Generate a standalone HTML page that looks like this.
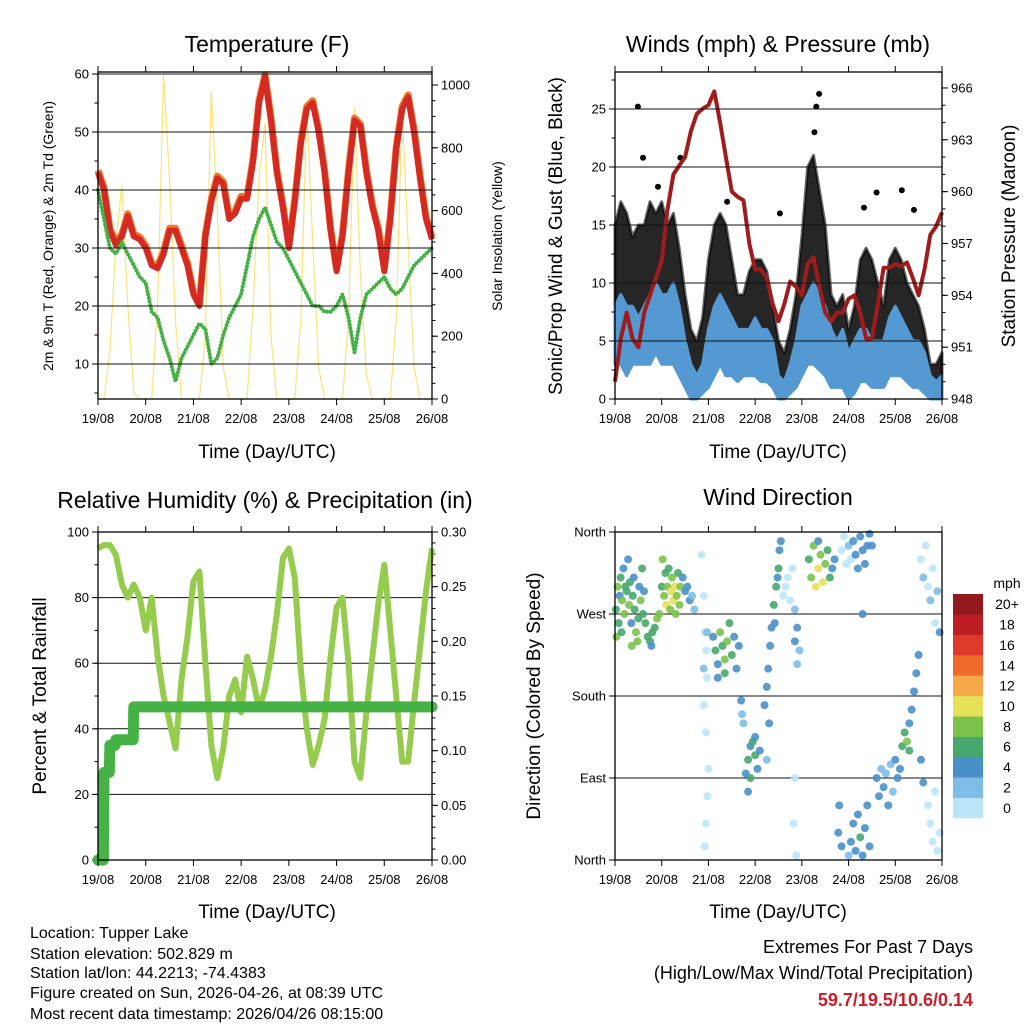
<!DOCTYPE html>
<html><head><meta charset="utf-8">
<style>
html,body{margin:0;padding:0;background:#fff;}
svg{display:block;font-family:"Liberation Sans",Arial,sans-serif;}
</style></head>
<body>
<svg id="chart" width="1024" height="1024" viewBox="0 0 1024 1024" xmlns="http://www.w3.org/2000/svg">
<rect width="1024" height="1024" fill="#fff"/>
<g id="layer"></g>
<text x="267" y="52" font-size="23" text-anchor="middle">Temperature (F)</text>
<text x="778" y="52" font-size="23" text-anchor="middle">Winds (mph) &amp; Pressure (mb)</text>
<text x="265" y="508" font-size="23" text-anchor="middle">Relative Humidity (%) &amp; Precipitation (in)</text>
<text x="778" y="505" font-size="23" text-anchor="middle">Wind Direction</text>
<text x="267" y="458" font-size="19" text-anchor="middle">Time (Day/UTC)</text>
<text x="778" y="458" font-size="19" text-anchor="middle">Time (Day/UTC)</text>
<text x="267" y="918" font-size="19" text-anchor="middle">Time (Day/UTC)</text>
<text x="778" y="918" font-size="19" text-anchor="middle">Time (Day/UTC)</text>
<text transform="translate(53,236) rotate(-90)" font-size="14" text-anchor="middle">2m &amp; 9m T (Red, Orange) &amp; 2m Td (Green)</text>
<text transform="translate(502,236) rotate(-90)" font-size="14" text-anchor="middle">Solar Insolation (Yellow)</text>
<text transform="translate(562,236) rotate(-90)" font-size="19" text-anchor="middle">Sonic/Prop Wind &amp; Gust (Blue, Black)</text>
<text transform="translate(1015,236) rotate(-90)" font-size="19" text-anchor="middle">Station Pressure (Maroon)</text>
<text transform="translate(46,696) rotate(-90)" font-size="19" text-anchor="middle">Percent &amp; Total Rainfall</text>
<text transform="translate(540,696) rotate(-90)" font-size="19" text-anchor="middle">Direction (Colored By Speed)</text>
<g font-size="16">
<text x="30" y="938">Location: Tupper Lake</text>
<text x="30" y="959">Station elevation: 502.829 m</text>
<text x="30" y="978">Station lat/lon: 44.2213; -74.4383</text>
<text x="30" y="998">Figure created on Sun, 2026-04-26, at 08:39 UTC</text>
<text x="30" y="1019">Most recent data timestamp: 2026/04/26 08:15:00</text>
</g>
<text x="973" y="953" font-size="18" text-anchor="end">Extremes For Past 7 Days</text>
<text x="973" y="979" font-size="18" text-anchor="end">(High/Low/Max Wind/Total Precipitation)</text>
<text x="973" y="1006" font-size="18" font-weight="bold" fill="#c8202a" text-anchor="end">59.7/19.5/10.6/0.14</text>
</svg>
<script>
// ---- data (3-hourly from 19/08 00 UTC) ----
const dayLabels = ["19/08","20/08","21/08","22/08","23/08","24/08","25/08","26/08"];
const tempF = [43,40,33,30.5,32,35.5,32,31.5,30,27,26.5,29,33,33,30,27,22,20,32,38,42,41,35,36,38.5,38.5,45,55,59.5,52,43,37,30,38,48,54,55,50,43,33,26,32,43,52,51,43,37,33,26,35,47,54,56,50,42,35,31.5];
const dewF = [40,35,30,29,31,29,27,25,24,19,18,14,11,7,11,13,15,17,16,10,11,15,18,20,22,27,32,35,37,34,31,30,28,26,24,22,20,20,19,19,20,22,18,12,18,22,23,24,25,23,22,23,25,27,28,29,30];
const solar = [0,0,150,500,680,300,20,0, 0,0,300,1030,700,250,0,0, 0,0,200,980,600,100,0,0, 0,0,300,700,880,200,0,0, 0,0,250,930,500,100,0,0, 0,0,250,930,400,80,0,0, 0,0,250,930,500,100,0,0, 0];
const pressure = [949,951.5,953,951.5,951,953,954,955,956,959,961,961.5,962,963.5,964.5,964.8,965,965.8,964,962,960,959.7,959.5,957,955.5,955.5,955,953.5,952.5,953.5,954.8,954.5,954,955.8,956.2,954.5,953,952.5,953,953,953.8,954,953,951.5,951.5,953.5,955.6,955.6,955.8,955.7,955.9,955,954,955.5,957.5,958,958.8];
const gustHi = [15,17,16,14,15,15,17,16,17,15,16,13,9,6,5,7,12,15,16,15,12,9,9,11,12,12,11,8,5,4,6,9,14,20,21,18,15,9,8,9,6,8,12,13,12,10,8,12,13,12,10,9,8,6,3,3,4];
const windHi = [8,9,8,8,7,8,9,10,9,9,10,8,5,3,2,3,6,8,9,8,7,6,6,6,7,6,6,5,2,1.5,3,5,8,9,10,9,8,6,5,6,4,5,6,6,5,5,5,7,8,7,6,5,5,4,2,1.5,2];
const windLo = [3,3,2,3,3,3,3,4,3,3,3,2,1,0,0,0.5,1,2,3,2,2,1.5,2,2,2,1.5,1.5,1,0,0,0.5,1,2,3,3,2.5,2,1,1,1,0,0.5,1.5,1.5,1,1,1,2,2,2,1.5,1,1,0.5,0,0,0];
const gustOutDay = [0.49,0.6,0.92,1.4,2.4,3.53,4.37,4.31,4.27,5.6,6.14,6.4,5.33];
const gustOutVal = [25.2,20.8,18.3,20.8,17,16,26.3,25.2,23,17.8,18,16.3,16.5];
const rhPct = [95,96,96,93,84,80,84,80,70,80,62,50,42,34,55,68,85,88,60,35,25,34,50,55,45,62,55,46,52,62,75,92,95,86,58,40,29,35,43,62,77,80,60,30,25,45,62,78,90,70,50,30,30,48,65,82,95];
const precipIn = [0,0.08,0.105,0.11,0.11,0.11,0.14,0.14,0.14,0.14,0.14,0.14,0.14,0.14,0.14,0.14,0.14,0.14,0.14,0.14,0.14,0.14,0.14,0.14,0.14,0.14,0.14,0.14,0.14,0.14,0.14,0.14,0.14,0.14,0.14,0.14,0.14,0.14,0.14,0.14,0.14,0.14,0.14,0.14,0.14,0.14,0.14,0.14,0.14,0.14,0.14,0.14,0.14,0.14,0.14,0.14,0.14];
const dirDay = [0.02,0.05,0.08,0.1,0.12,0.15,0.18,0.2,0.22,0.25,0.28,0.3,0.32,0.35,0.38,0.4,0.42,0.45,0.48,0.5,0.52,0.55,0.58,0.6,0.62,0.65,0.03,0.14,0.36,
0.7,0.75,0.8,0.85,0.9,0.78,
0.95,1.0,1.02,1.05,1.08,1.1,1.12,1.15,1.18,1.2,1.22,1.25,1.28,1.3,1.32,1.35,1.38,1.4,1.45,1.5,1.55,1.6,1.65,1.7,
1.85,1.9,1.92,1.95,1.97,1.9,1.95,2.0,1.98,1.95,1.92,1.97,1.9,
2.1,2.15,2.2,2.25,2.3,2.35,2.4,2.45,2.5,2.55,2.6,2.65,2.2,2.35,
2.7,2.72,2.75,
2.8,2.85,2.9,2.95,3.0,3.05,3.1,2.9,2.85,3.0,
3.2,3.25,3.28,3.32,3.35,3.3,3.25,
3.4,3.45,3.5,3.52,3.55,3.42,3.48,
3.6,3.65,3.7,3.75,3.8,3.85,
3.85,3.9,3.95,3.9,3.85,3.82,3.88,
4.15,4.2,4.25,4.3,4.35,4.4,4.45,4.5,4.55,4.6,4.65,4.7,4.35,
4.85,4.9,4.95,5.0,5.05,5.1,5.15,5.2,5.25,5.3,5.35,5.4,5.45,5.3,5.5,
4.78,4.8,4.85,5.05,5.1,5.15,5.2,5.25,5.3,5.35,5.4,5.45,5.0,
5.6,5.65,5.7,5.75,5.8,5.85,5.9,5.95,6.0,6.05,
6.1,6.15,6.2,6.25,6.3,6.35,6.4,6.45,6.5,6.55,6.6,6.3,
6.55,6.6,6.65,6.7,6.75,6.8,6.85,6.9,6.95,6.7,6.75,6.8,6.85,6.9,6.95];
const dirDeg = [275,300,260,290,310,285,320,270,300,295,330,280,305,260,290,310,275,250,240,265,300,285,320,270,295,260,245,250,235,
245,240,250,255,265,235,
270,300,330,290,315,280,300,320,275,295,310,285,300,270,290,315,280,300,310,295,300,285,290,275,
335,290,250,230,200,170,140,100,70,40,15,250,210,
245,230,215,250,235,220,240,260,225,245,210,235,200,205,
175,160,150,
95,110,125,130,115,100,120,90,75,135,
170,190,210,235,255,150,110,
280,300,320,340,350,260,310,
290,300,310,285,320,275,
240,255,230,215,90,40,5,
330,310,345,300,320,335,305,325,340,310,320,330,350,
340,355,325,345,330,350,335,320,355,340,325,345,358,270,345,
30,60,15,20,40,10,50,25,5,35,60,15,5,
90,70,100,80,95,60,105,75,110,90,
100,125,140,130,150,165,185,205,225,110,85,120,
330,310,345,300,285,320,260,295,250,60,40,20,75,10,30];
const dirSpd = [6,7,5,4,6,8,4,7,5,6,4,7,6,4,5,4,6,8,7,6,4,7,5,6,4,5,7,6,7,
6,6,5,6,7,4,
7,6,7,8,6,9,7,6,8,9,8,10,9,8,7,6,7,8,4,3,4,3,2,2,
0,0,0,0,0,0,0,0,0,0,0,2,2,
4,5,4,7,6,8,7,6,5,4,4,3,3,5,
3,2,2,
4,5,4,6,5,4,4,6,3,4,
4,4,4,4,4,4,2,
6,6,5,4,3,4,4,
0,0,0,0,0,2,
3,3,2,2,0,0,0,
6,8,7,9,10,8,9,7,6,5,4,4,4,
0,0,0,2,0,4,4,4,4,3,4,3,4,4,4,
4,4,3,3,4,3,4,5,4,3,3,3,2,
4,3,2,3,2,3,2,2,4,3,
4,5,6,7,4,4,4,4,4,4,4,6,
0,2,0,0,2,0,0,2,4,0,0,0,0,0,0];
const speedLabels = ["0","2","4","6","8","10","12","14","16","18","20+"];
const speedColors = ["#bde5f8","#7fbce6","#4a90c8","#46a86c","#7cc24a","#e6e05a","#f7a94a","#f06a2c","#de3a2c","#bd1e24","#921a1c"];

const NS="http://www.w3.org/2000/svg";
const layer=document.getElementById('layer');
function mk(tag,attrs,parent){const e=document.createElementNS(NS,tag);for(const k in attrs)e.setAttribute(k,attrs[k]);(parent||layer).appendChild(e);return e;}
function pts(xs,ys){return xs.map((x,i)=>x.toFixed(1)+','+ys[i].toFixed(1)).join(' ');}

const P1={x0:98,x1:432,y0:72,y1:399}, P2={x0:615,x1:942,y0:72,y1:399}, P3={x0:98,x1:432,y0:532,y1:860}, P4={x0:615,x1:942,y0:532,y1:860};
function xDay(P,d){return P.x0+(P.x1-P.x0)*d/7;}
function xIdx(P,i){return xDay(P,i/8);}
const yT=v=>364-(v-10)*5.8, yS=s=>399-s*0.314;
const yW=v=>399-v*11.6, yP=p=>399-(p-948)*17.28;
const yR=r=>860-r*3.28, yPr=p=>860-p*1093.3;
const yD=d=>860-d*0.9111;

function frame(P,name){
  const r=mk('rect',{x:P.x0,y:P.y0,width:P.x1-P.x0,height:P.y1-P.y0,fill:'none',stroke:'#000','stroke-width':1.3});
  
  
  dayLabels.forEach((lab,i)=>{
    const x=xDay(P,i);
    mk('line',{x1:x,x2:x,y1:P.y1,y2:P.y1+6,stroke:'#000','stroke-width':1});
    mk('line',{x1:x,x2:x,y1:P.y0,y2:P.y0-6,stroke:'#000','stroke-width':1});
    const t=mk('text',{x:x,y:P.y1+24,'font-size':13,'text-anchor':'middle'});
    t.textContent=lab;
    
    
  });
}
function axis(P,side,vals,labels,yf,minors,grid,name){
  const x=side==='l'?P.x0:P.x1, dir=side==='l'?-1:1;
  minors.forEach(v=>{const y=yf(v);mk('line',{x1:x,x2:x+dir*3.5,y1:y,y2:y,stroke:'#000','stroke-width':1});});
  vals.forEach((v,i)=>{
    const y=yf(v);
    if(grid) mk('line',{x1:P.x0,x2:P.x1,y1:y,y2:y,stroke:'#111','stroke-width':1});
    mk('line',{x1:x,x2:x+dir*6,y1:y,y2:y,stroke:'#000','stroke-width':1});
    const t=mk('text',{x:x+dir*9,y:y+4.5,'font-size':13,'text-anchor':side==='l'?'end':'start'});
    t.textContent=labels[i];
    
    
  });
}
const range=(a,b,s)=>{const r=[];for(let v=a;v<=b+1e-9;v+=s)r.push(+v.toFixed(3));return r;};

// ---- Panel 1: temperature ----
const idx=tempF.map((_,i)=>i);
const s1=mk('polyline',{points:pts(idx.map(i=>xIdx(P1,i)),solar.map(yS)),fill:'none',stroke:'#fbe27a','stroke-width':1.2});


const o1=mk('polyline',{points:pts(idx.map(i=>xIdx(P1,i)),tempF.map(v=>yT(v+0.4))),fill:'none',stroke:'#f07a2a','stroke-width':7,'stroke-linejoin':'round'});


const r1=mk('polyline',{points:pts(idx.map(i=>xIdx(P1,i)),tempF.map(yT)),fill:'none',stroke:'#d42a24','stroke-width':6,'stroke-linejoin':'round'});


const g1=mk('polyline',{points:pts(idx.map(i=>xIdx(P1,i)),dewF.map(yT)),fill:'none',stroke:'#45b045','stroke-width':4,'stroke-linecap':'round','stroke-dasharray':'0 3.5'});


axis(P1,'l',[10,20,30,40,50,60],['10','20','30','40','50','60'],yT,range(5,60,5),true,'temp-y');
axis(P1,'r',[0,200,400,600,800,1000],['0','200','400','600','800','1000'],yS,range(0,1040,50),false,'solar-y');
frame(P1,'temp');

// ---- Panel 2: winds ----
const gx=idx.map(i=>xIdx(P2,i));
const ga=mk('polygon',{points:pts(gx.concat(gx.slice().reverse()),gustHi.map(yW).concat(windLo.slice().reverse().map(v=>yW(v+1)))),fill:'#000','fill-opacity':0.85,stroke:'#000','stroke-opacity':0.6,'stroke-width':3,'stroke-linejoin':'round'});


gustOutDay.forEach((d,i)=>{
  const c=mk('circle',{cx:xDay(P2,d),cy:yW(gustOutVal[i]),r:3,fill:'#000'});
  
  
});
const wa=mk('polygon',{points:pts(gx.concat(gx.slice().reverse()),windHi.map(yW).concat(windLo.slice().reverse().map(yW))),fill:'#5499d2',stroke:'#5499d2','stroke-width':3,'stroke-linejoin':'round'});


const pl=mk('polyline',{points:pts(gx,pressure.map(yP)),fill:'none',stroke:'#a01c1c','stroke-width':4,'stroke-linejoin':'round'});


axis(P2,'l',[0,5,10,15,20,25],['0','5','10','15','20','25'],yW,range(0,27.5,2.5),true,'wind-y');
axis(P2,'r',[948,951,954,957,960,963,966],['948','951','954','957','960','963','966'],yP,range(948,966,1),false,'pressure-y');
frame(P2,'winds');

// ---- Panel 3: RH & precip ----
axis(P3,'l',[0,20,40,60,80,100],['0','20','40','60','80','100'],yR,range(0,100,10),true,'rh-y');
axis(P3,'r',[0,0.05,0.1,0.15,0.2,0.25,0.3],['0.00','0.05','0.10','0.15','0.20','0.25','0.30'],yPr,range(0,0.3,0.01),false,'precip-y');
const rl=mk('polyline',{points:pts(idx.map(i=>xIdx(P3,i)),rhPct.map(yR)),fill:'none',stroke:'#96cc4e','stroke-width':6,'stroke-linejoin':'round'});


const stepX=[],stepY=[];
precipIn.forEach((p,i)=>{ if(i>0){stepX.push(xIdx(P3,i-0.1));stepY.push(yPr(precipIn[i-1]));} stepX.push(xIdx(P3,i));stepY.push(yPr(p)); });
const pr=mk('polyline',{points:pts(stepX,stepY),fill:'none',stroke:'#46b246','stroke-width':11,'stroke-linecap':'round','stroke-linejoin':'round'});


frame(P3,'rh');

// ---- Panel 4: wind direction ----
axis(P4,'l',[0,90,180,270,360],['North','East','South','West','North'],yD,[],true,'dir-y');
dirDay.forEach((d,i)=>{
  const s=dirSpd[i];
  const k=s<=1?0:Math.min(10,Math.round(s/2));
  const c=mk('circle',{cx:xDay(P4,d),cy:yD(dirDeg[i]),r:4,fill:speedColors[k],'fill-opacity':0.9});
  
  
});
frame(P4,'direction');
// colorbar
const cbTop=594, cbH=(818-594)/11;
const mph=mk('text',{x:1007,y:588,'font-size':14,'text-anchor':'middle'});
mph.textContent='mph';


speedLabels.forEach((lab,i)=>{
  const j=10-i;
  const y=cbTop+j*cbH;
  const r=mk('rect',{x:953,y:y,width:30,height:cbH+0.3,fill:speedColors[i]});
  
  
  const t=mk('text',{x:1007,y:y+cbH/2+5,'font-size':14,'text-anchor':'middle'});
  t.textContent=lab;
  
  
});
</script>
</body></html>
